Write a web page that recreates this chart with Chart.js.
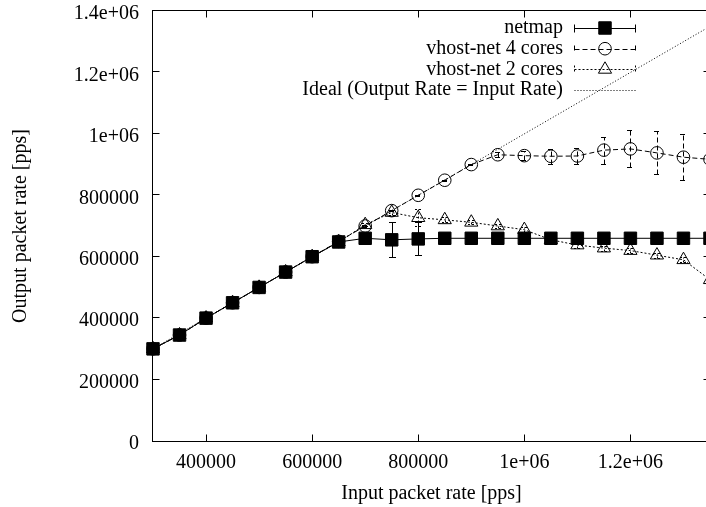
<!DOCTYPE html>
<html>
<head>
<meta charset="utf-8">
<script src="https://cdn.jsdelivr.net/npm/chart.js@4.4.1/dist/chart.umd.min.js"></script>
<style>
  html, body { margin: 0; padding: 0; background: #fff; overflow: hidden; width: 706px; height: 507px; }
  canvas { display: block; }
</style>
</head>
<body>
<canvas id="rates" width="720" height="507" style="width:720px;height:507px"></canvas>
<script>
// Offered load (pps)
const inputRate = [300000, 350000, 400000, 450000, 500000, 550000, 600000, 650000, 700000, 750000, 800000,
                   850000, 900000, 950000, 1000000, 1050000, 1100000, 1150000, 1200000, 1250000, 1300000, 1350000];

// Measured output rate (pps) and +/- spread per configuration
const netmapRate = [300000, 345000, 400000, 450000, 500000, 550000, 600000, 648000, 660000, 655000, 658000,
                    660000, 660000, 660000, 660000, 660000, 660000, 660000, 660000, 660000, 660000, 660000];
const netmapErr  = [1500, 1500, 1500, 1500, 1500, 1500, 1500, 1500, 2000, 57000, 54000,
                    1500, 1500, 1500, 1500, 1500, 1500, 1500, 1500, 1500, 1500, 1500];

const vhost4Rate = [300000, 345000, 400000, 450000, 500000, 550000, 600000, 650000, 700000, 750000, 800000,
                    849000, 900000, 932000, 929000, 927000, 928000, 947000, 951000, 938000, 924000, 917000];
const vhost4Err  = [2000, 2000, 2000, 2000, 2000, 2000, 2000, 2000, 2000, 2000, 2000,
                    2000, 3000, 8000, 15000, 25000, 27000, 44000, 60000, 70000, 74000, 85000];

const vhost2Rate = [300000, 345000, 400000, 450000, 500000, 550000, 600000, 648000, 704000, 744000, 727000,
                    720000, 712000, 700000, 688000, 655000, 638000, 628000, 620000, 605000, 590000, 525000];
const vhost2Err  = [2000, 2000, 2000, 2000, 2000, 2000, 2000, 2000, 5000, 8000, 27000,
                    8000, 6000, 6000, 8000, 5000, 8000, 8000, 8000, 8000, 8000, 8000];

// Reference: output equals input
const idealIn  = [300000, 1350000];
const idealOut = [300000, 1350000];

// Axis ticks
const xTickValues = [400000, 600000, 800000, 1000000, 1200000];
const xTickLabels = ['400000', '600000', '800000', '1e+06', '1.2e+06'];
const yTickValues = [0, 200000, 400000, 600000, 800000, 1000000, 1200000, 1400000];
const yTickLabels = ['0', '200000', '400000', '600000', '800000', '1e+06', '1.2e+06', '1.4e+06'];

const FONT = "'Liberation Serif', 'Times New Roman', Times, serif";
Chart.defaults.font.family = FONT;
Chart.defaults.font.size = 20;
Chart.defaults.color = '#000';

const toPoints = (xs, ys) => xs.map((v, i) => ({ x: v, y: ys[i] }));

// Box with inward ticks on all four sides, plus y error bars
const frame = {
  id: 'frame',
  beforeDatasetsDraw(chart) {
    const { ctx, chartArea: a, scales: { x, y } } = chart;
    const L = a.left - 0.5, R = a.right + 0.5, T = a.top - 0.5, B = a.bottom + 0.5;
    const tick = 7;
    ctx.save();
    ctx.strokeStyle = '#000';
    ctx.lineWidth = 1;
    ctx.setLineDash([]);
    ctx.strokeRect(L, T, R - L, B - T);
    ctx.beginPath();
    xTickValues.forEach(v => {
      if (v <= x.min || v >= x.max) return;
      const px = Math.round(x.getPixelForValue(v)) + 0.5;
      ctx.moveTo(px, B); ctx.lineTo(px, B - tick);
      ctx.moveTo(px, T); ctx.lineTo(px, T + tick);
    });
    yTickValues.forEach(v => {
      if (v <= y.min || v >= y.max) return;
      const py = Math.round(y.getPixelForValue(v)) - 0.5;
      ctx.moveTo(L, py); ctx.lineTo(L + tick, py);
      ctx.moveTo(R, py); ctx.lineTo(R - tick, py);
    });
    ctx.stroke();

    chart.data.datasets.forEach(ds => {
      if (!ds.errors) return;
      ctx.setLineDash(ds.borderDash || []);
      ctx.beginPath();
      ds.data.forEach((p, j) => {
        const e = ds.errors[j];
        const px = Math.round(x.getPixelForValue(p.x)) + 0.5;
        const yl = Math.round(y.getPixelForValue(p.y - e)) + 0.5;
        const yh = Math.round(y.getPixelForValue(p.y + e)) + 0.5;
        ctx.moveTo(px, yl); ctx.lineTo(px, yh);
        ctx.moveTo(px - 3.5, yl); ctx.lineTo(px + 3.5, yl);
        ctx.moveTo(px - 3.5, yh); ctx.lineTo(px + 3.5, yh);
      });
      ctx.stroke();
    });
    ctx.restore();
  }
};

// Key in the upper right: right-aligned titles, sample line with end bars and marker
const key = {
  id: 'key',
  afterDatasetsDraw(chart) {
    const { ctx, chartArea: a } = chart;
    const textRight = a.right - 147;
    const x0 = a.right - 135.5, x1 = a.right - 74.5, xm = (x0 + x1) / 2;
    ctx.save();
    ctx.font = '20px ' + FONT;
    ctx.fillStyle = '#000';
    ctx.textAlign = 'right';
    ctx.textBaseline = 'middle';
    chart.data.datasets.forEach((ds, i) => {
      const row = a.top + 17 + i * 20.7;
      const ly = Math.round(row) + 0.5;
      ctx.fillStyle = '#000';
      ctx.fillText(ds.label, textRight, row);
      ctx.strokeStyle = ds.borderColor;
      ctx.lineWidth = 1;
      ctx.setLineDash(ds.borderDash || []);
      ctx.beginPath();
      ctx.moveTo(x0, ly); ctx.lineTo(x1, ly);
      if (ds.errors) {
        ctx.moveTo(x0, ly - 4); ctx.lineTo(x0, ly + 4);
        ctx.moveTo(x1, ly - 4); ctx.lineTo(x1, ly + 4);
      }
      ctx.stroke();
      ctx.setLineDash([]);
      if (ds.pointRadius > 0) {
        ctx.fillStyle = ds.pointBackgroundColor;
        ctx.strokeStyle = ds.pointBorderColor;
        ctx.lineWidth = ds.pointBorderWidth;
        Chart.helpers.drawPoint(ctx, {
          pointStyle: ds.pointStyle, rotation: 0,
          radius: ds.pointRadius, borderWidth: ds.pointBorderWidth
        }, xm, row);
      }
    });
    ctx.restore();
  }
};

new Chart(document.getElementById('rates'), {
  type: 'line',
  data: {
    datasets: [
      {
        label: 'netmap',
        data: toPoints(inputRate, netmapRate),
        errors: netmapErr,
        borderColor: '#000', borderWidth: 1, borderDash: [],
        pointStyle: 'rect', pointRadius: 8.8, pointBorderWidth: 1,
        pointBackgroundColor: '#000', pointBorderColor: '#000',
        tension: 0, clip: false
      },
      {
        label: 'vhost-net 4 cores',
        data: toPoints(inputRate, vhost4Rate),
        errors: vhost4Err,
        borderColor: '#000', borderWidth: 1, borderDash: [5, 3],
        pointStyle: 'circle', pointRadius: 6.3, pointBorderWidth: 1,
        pointBackgroundColor: 'rgba(0,0,0,0)', pointBorderColor: '#000',
        tension: 0, clip: false
      },
      {
        label: 'vhost-net 2 cores',
        data: toPoints(inputRate, vhost2Rate),
        errors: vhost2Err,
        borderColor: '#000', borderWidth: 1, borderDash: [2, 2],
        pointStyle: 'triangle', pointRadius: 7.6, pointBorderWidth: 1,
        pointBackgroundColor: 'rgba(0,0,0,0)', pointBorderColor: '#000',
        tension: 0, clip: false
      },
      {
        label: 'Ideal (Output Rate = Input Rate)',
        data: toPoints(idealIn, idealOut),
        borderColor: '#000', borderWidth: 1, borderDash: [1, 2],
        pointRadius: 0, pointBorderWidth: 0,
        tension: 0, clip: false
      }
    ]
  },
  options: {
    responsive: false,
    animation: false,
    events: [],
    layout: { padding: { top: 11, right: 10, left: 0, bottom: 0 } },
    plugins: { legend: { display: false }, tooltip: { enabled: false } },
    scales: {
      x: {
        type: 'linear',
        min: 300000, max: 1350000,
        grid: { display: false, drawTicks: false },
        border: { display: false },
        afterBuildTicks: s => { s.ticks = xTickValues.map(v => ({ value: v })); },
        afterFit: s => { s.height = 66; s.paddingLeft = 0; s.paddingRight = 0; },
        ticks: {
          padding: 10, maxRotation: 0, autoSkip: false,
          callback: v => xTickLabels[xTickValues.indexOf(v)]
        },
        title: { display: true, text: 'Input packet rate [pps]', padding: { top: 0, bottom: 1 } }
      },
      y: {
        type: 'linear',
        min: 0, max: 1400000,
        grid: { display: false, drawTicks: false },
        border: { display: false },
        afterBuildTicks: s => { s.ticks = yTickValues.map(v => ({ value: v })); },
        afterFit: s => { s.width = 153; s.paddingTop = 0; s.paddingBottom = 0; },
        ticks: {
          padding: 14, labelOffset: 3, autoSkip: false,
          callback: v => yTickLabels[yTickValues.indexOf(v)]
        },
        title: { display: true, text: 'Output packet rate [pps]', padding: { top: 9, bottom: 0 } }
      }
    }
  },
  plugins: [frame, key]
});
</script>
</body>
</html>
